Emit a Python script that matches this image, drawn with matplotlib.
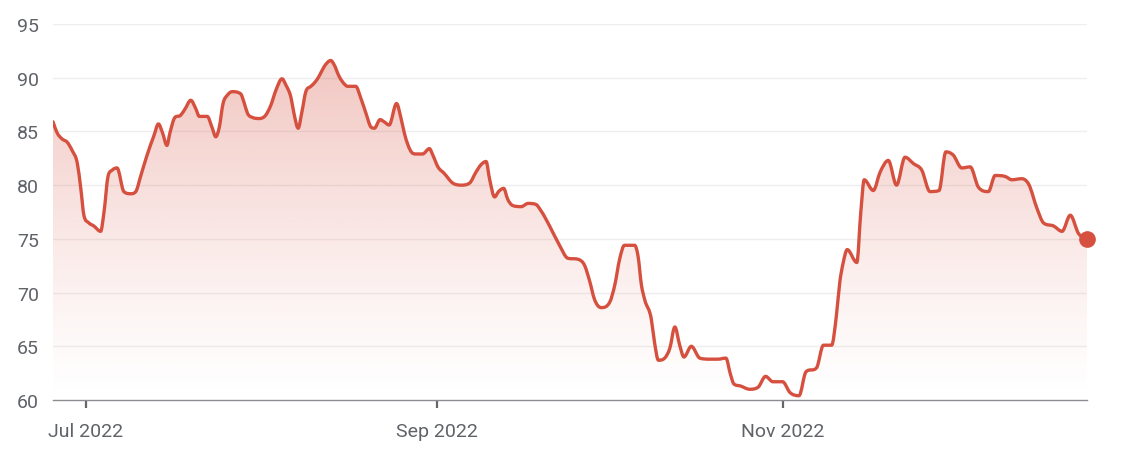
import numpy as np
import matplotlib
matplotlib.use('Agg')
import matplotlib.pyplot as plt
import matplotlib.dates as mdates
from matplotlib.path import Path
from matplotlib.patches import PathPatch
from datetime import datetime

plt.rcParams['font.family'] = ['Roboto', 'DejaVu Sans']

# days counted from 2022-07-01
days = [-5.8, -5.1, -4.2, -3.3, -2.4, -1.5, -0.9, -0.35, 0.5, 1.4, 2.6, 3.2, 3.9, 4.65,
        5.5, 6.7, 7.9, 8.8, 9.7, 10.8, 12.0, 12.8, 13.5, 14.3, 14.8, 15.7, 16.7, 17.5,
        18.5, 19.4, 20.0, 21.4, 22.3, 22.9, 23.5, 24.2, 25.0, 25.8, 27.3, 27.9, 28.5,
        29.4, 30.6, 31.7, 32.6, 33.5, 34.6, 35.3, 36.2, 36.7, 37.45, 38.1, 38.8, 39.7,
        40.45, 41.2, 42.0, 43.2, 43.8, 44.6, 45.3, 46.2, 47.6, 48.5, 49.4, 50.3, 50.9,
        51.9, 52.6, 53.5, 54.8, 55.6, 56.2, 57.4, 58.2, 59.4, 60.6, 61.2, 62.1, 63.2,
        64.7, 66.2, 67.7, 68.8, 69.7, 70.6, 71.2, 72.1, 72.8, 73.7, 74.4, 75.3, 76.8,
        78.0, 79.4, 80.3, 81.8, 83.55, 85.0, 86.8, 88.0, 88.85, 89.7, 90.9, 92.4, 93.3,
        94.15, 95.0, 96.8, 97.4, 98.0, 98.6, 99.75, 100.3, 101.0, 102.1, 103.0, 103.9,
        104.75, 105.5, 106.8, 108.3, 110.0, 111.5, 112.9, 113.7, 114.3, 115.5, 117.1,
        118.6, 119.9, 121.2, 122.9, 124.2, 125.8, 127.0, 128.9, 130.1, 131.55, 132.4,
        133.0, 133.6, 134.3, 136.0, 136.7, 137.3, 138.9, 140.1, 141.55, 143.0, 144.5,
        146.0, 147.45, 148.9, 150.5, 151.7, 153.0, 154.5, 156.0, 157.45, 159.2, 160.4,
        162.2, 163.35, 165.1, 166.3, 167.8, 168.9, 170.7, 172.2, 173.65, 175.1, 176.6]
price = [85.9, 84.9, 84.3, 84.0, 83.2, 82.0, 79.7, 77.2, 76.5, 76.2, 75.7, 77.5, 80.8, 81.4,
         81.6, 79.4, 79.2, 79.4, 80.9, 82.8, 84.6, 85.7, 84.9, 83.7, 84.8, 86.3, 86.5, 87.1,
         87.9, 87.1, 86.4, 86.4, 85.3, 84.5, 85.3, 87.6, 88.4, 88.7, 88.5, 87.7, 86.7,
         86.3, 86.2, 86.5, 87.4, 88.8, 89.9, 89.3, 88.1, 86.7, 85.3, 86.8, 88.7, 89.2,
         89.6, 90.2, 91.0, 91.6, 91.2, 90.2, 89.6, 89.2, 89.2, 88.1, 86.7, 85.4, 85.3,
         86.1, 85.9, 85.6, 87.6, 86.2, 84.8, 83.1, 82.9, 82.9, 83.4, 82.8, 81.7, 81.1,
         80.2, 80.0, 80.2, 81.2, 81.9, 82.2, 80.6, 78.9, 79.4, 79.7, 78.7, 78.1, 78.0,
         78.3, 78.2, 77.6, 76.2, 74.4, 73.2, 73.1, 72.5, 71.1, 69.4, 68.6, 69.1, 70.7,
         73.1, 74.4, 74.4, 73.4, 70.7, 69.3, 67.5, 65.4, 63.7, 63.9, 64.8, 66.8,
         65.1, 64.0, 65.0, 63.9, 63.8, 63.8, 63.9, 62.4, 61.5, 61.3, 61.0,
         61.2, 62.2, 61.7, 61.7, 60.7, 60.4, 62.6, 63.0, 65.1, 65.1, 67.9,
         71.0, 72.8, 74.0, 72.8, 77.5, 80.5, 79.5, 81.2, 82.3, 80.0, 82.6,
         82.0, 81.4, 79.4, 79.5, 83.1, 82.8, 81.6, 81.7, 79.8, 79.4, 80.9,
         80.8, 80.5, 80.6, 80.1, 77.8, 76.5, 76.2, 75.7, 77.2, 75.5, 75.0]

yticks = [60, 65, 70, 75, 80, 85, 90, 95]
xtick_dates = [datetime(2022, 7, 1), datetime(2022, 9, 1), datetime(2022, 11, 1)]

red = '#d6503f'
gray_text = '#5f6368'

x = mdates.date2num(datetime(2022, 7, 1)) + np.array(days)
y = np.array(price)


def monotone_path(x, y):
    # smooth monotone-x curve through the points, as cubic bezier segments
    dx = np.diff(x)
    sec = np.diff(y) / dx
    m = np.zeros_like(y)
    m[0], m[-1] = sec[0], sec[-1]
    for i in range(1, len(y) - 1):
        if sec[i - 1] * sec[i] <= 0:
            m[i] = 0
        else:
            m[i] = (sec[i - 1] * dx[i] + sec[i] * dx[i - 1]) / (dx[i - 1] + dx[i])
            lim = 3 * min(abs(sec[i - 1]), abs(sec[i]))
            m[i] = np.sign(m[i]) * min(abs(m[i]), lim)
    verts = [(x[0], y[0])]
    codes = [Path.MOVETO]
    for i in range(len(x) - 1):
        h = dx[i] / 3
        verts += [(x[i] + h, y[i] + m[i] * h),
                  (x[i + 1] - h, y[i + 1] - m[i + 1] * h),
                  (x[i + 1], y[i + 1])]
        codes += [Path.CURVE4] * 3
    return verts, codes


fig = plt.figure(figsize=(11.28, 4.6), dpi=100)
ax = fig.add_axes([53 / 1128, 59 / 460, 1034 / 1128, 376 / 460])

ax.set_xlim(x[0], x[-1])
ax.set_ylim(60, 95)

verts, codes = monotone_path(x, y)

# gradient fill under the line
t = np.linspace(1, 0, 256)
rgba = np.zeros((256, 1, 4))
rgba[..., 0] = 214 / 255
rgba[..., 1] = 80 / 255
rgba[..., 2] = 64 / 255
rgba[..., 3] = (0.33 * t ** 1.25).reshape(-1, 1)
img = ax.imshow(rgba, aspect='auto', extent=[x[0], x[-1], 60, 92],
                origin='upper', zorder=1, interpolation='bilinear')
fill_path = Path(verts + [(x[-1], 60), (x[0], 60), (x[0], y[0])],
                 codes + [Path.LINETO, Path.LINETO, Path.CLOSEPOLY])
clip = PathPatch(fill_path, facecolor='none', edgecolor='none')
ax.add_patch(clip)
img.set_clip_path(clip)

ax.add_patch(PathPatch(Path(verts, codes), facecolor='none', edgecolor=red,
                       linewidth=2.4, joinstyle='round', capstyle='round', zorder=3))
ax.plot(x[-1], y[-1], 'o', color=red, markersize=11, zorder=4, clip_on=False)

for v in yticks[1:]:
    ax.axhline(v, color='#eeeeee', linewidth=1, zorder=0)

ax.set_yticks(yticks)
ax.set_xticks(mdates.date2num(xtick_dates))
ax.xaxis.set_major_formatter(mdates.DateFormatter('%b %Y'))

for s in ['top', 'right', 'left']:
    ax.spines[s].set_visible(False)
ax.spines['bottom'].set_color('#8a8d91')
ax.spines['bottom'].set_linewidth(1)
ax.spines['bottom'].set_zorder(5)

ax.tick_params(axis='y', length=0, pad=10, labelsize=14, labelcolor=gray_text)
ax.tick_params(axis='x', length=6, width=1.6, color='#666666', pad=10,
               labelsize=14, labelcolor=gray_text)

fig.savefig('out.png', dpi=100)
